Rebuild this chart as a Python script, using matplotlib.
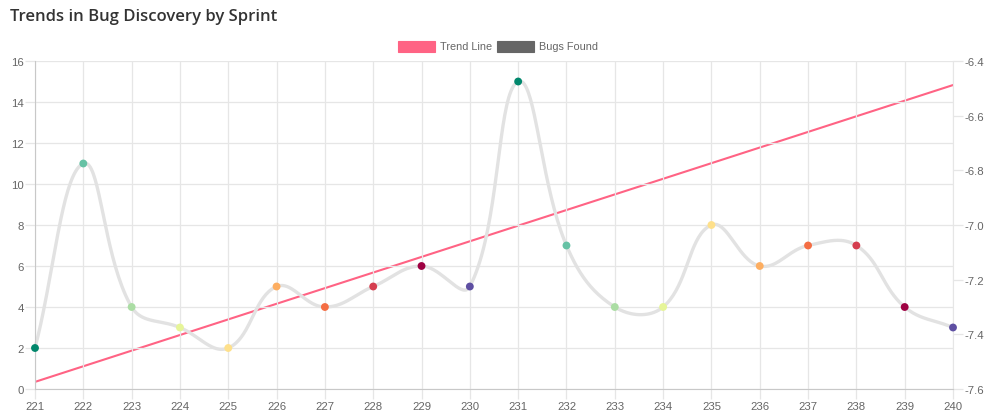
import numpy as np
import matplotlib.pyplot as plt
from matplotlib.patches import Rectangle

sprints = [str(s) for s in range(221, 241)]
bugs_found = [2, 11, 4, 3, 2, 5, 4, 5, 6, 5, 15, 7, 4, 4, 8, 6, 7, 7, 4, 3]
trend_start, trend_end = -7.574, -6.488
point_colors = ['#01876c', '#66c2a5', '#abdda4', '#e6f598', '#fee08b',
                '#fdae61', '#f46d43', '#d53e4f', '#9e0142', '#5e4fa2']

W, H = 984, 414
LEFT, RIGHT, TOP, BOTTOM = 35, 953, 62, 390
TEXT = '#666666'
GRID = '#e6e6e6'


def spline_controls(pts, tension=0.4):
    """ Bezier control points the way Chart.js builds them for curved lines """
    n = len(pts)
    cps = []
    for i in range(n):
        cur = pts[i]
        prev = pts[i - 1] if i > 0 else cur
        nxt = pts[i + 1] if i < n - 1 else cur
        d01 = np.hypot(*(cur - prev))
        d12 = np.hypot(*(nxt - cur))
        tot = d01 + d12
        s01 = d01 / tot if tot else 0
        s12 = d12 / tot if tot else 0
        cp_prev = cur - tension * s01 * (nxt - prev)
        cp_next = cur + tension * s12 * (nxt - prev)
        cps.append((cp_prev, cp_next))
    return cps


def bezier_path(pts, cps, steps=40):
    t = np.linspace(0, 1, steps)[:, None]
    out = []
    for i in range(len(pts) - 1):
        p0, p1, p2, p3 = pts[i], cps[i][1], cps[i + 1][0], pts[i + 1]
        seg = ((1 - t) ** 3) * p0 + 3 * ((1 - t) ** 2) * t * p1 \
            + 3 * (1 - t) * t ** 2 * p2 + t ** 3 * p3
        out.append(seg if i == 0 else seg[1:])
    return np.vstack(out)


fig = plt.figure(figsize=(W / 100, H / 100), dpi=100)
ax = fig.add_axes([LEFT / W, 1 - BOTTOM / H, (RIGHT - LEFT) / W, (BOTTOM - TOP) / H])
ax2 = ax.twinx()

x = np.arange(len(sprints))
ax.set_xlim(0, len(sprints) - 1)
ax.set_ylim(0, 16)
ax2.set_ylim(-7.6, -6.4)

# smooth gray curve, built in pixel space
pix = ax.transData.transform(np.column_stack([x, bugs_found]))
curve = bezier_path(pix, spline_controls(pix))
curve = ax.transData.inverted().transform(curve)
ax.plot(curve[:, 0], curve[:, 1], color='#e2e2e2', lw=2.4, zorder=2,
        solid_capstyle='round', clip_on=False)
ax.scatter(x, bugs_found, s=32, zorder=4, clip_on=False, linewidths=0,
           c=[point_colors[i % len(point_colors)] for i in range(len(x))])

ax2.plot([x[0], x[-1]], [trend_start, trend_end], color='#ff6384', lw=1.5, zorder=5)
ax.set_zorder(ax2.get_zorder() + 1)
ax.patch.set_visible(False)

# axes styling
ax.set_xticks(x)
ax.set_xticklabels(sprints)
ax.set_yticks(range(0, 17, 2))
ax2.set_yticks(np.round(np.arange(-7.6, -6.39, 0.2), 1))
ax2.set_yticklabels([f'{v:.1f}' for v in np.arange(-7.6, -6.39, 0.2)])
ax.grid(True, color=GRID, lw=0.9)
ax.set_axisbelow(True)
for a in (ax, ax2):
    for s in a.spines.values():
        s.set_visible(False)
    a.tick_params(colors=GRID, labelcolor=TEXT, labelsize=8.2, length=7, width=0.9, pad=1)
ax.spines['left'].set_visible(True)
ax.spines['left'].set_color('#c8c8c8')
ax.spines['bottom'].set_visible(True)
ax.spines['bottom'].set_color('#c8c8c8')
ax2.spines['right'].set_visible(True)
ax2.spines['right'].set_color(GRID)
ax.tick_params(axis='x', pad=2)
for lbl in ax.get_xticklabels() + ax.get_yticklabels() + ax2.get_yticklabels():
    lbl.set_family('Liberation Sans')

fig.text(10 / W, 1 - 17 / H, 'Trends in Bug Discovery by Sprint', fontsize=12.0,
         color='#333333', family='Open Sans', fontweight='semibold', va='center', ha='left')

# legend
for bx, col, label in [(398, '#ff6384', 'Trend Line'),
                       (497, '#666666', 'Bugs Found')]:
    fig.patches.append(Rectangle((bx / W, 1 - 53 / H), 37 / W, 11 / H, transform=fig.transFigure,
                                 facecolor=col, edgecolor=col, lw=0.8))
    fig.text((bx + 42) / W, 1 - 47.5 / H, label, fontsize=7.8, color=TEXT,
             family='Liberation Sans', va='center', ha='left')

fig.savefig('out.png', dpi=100)
